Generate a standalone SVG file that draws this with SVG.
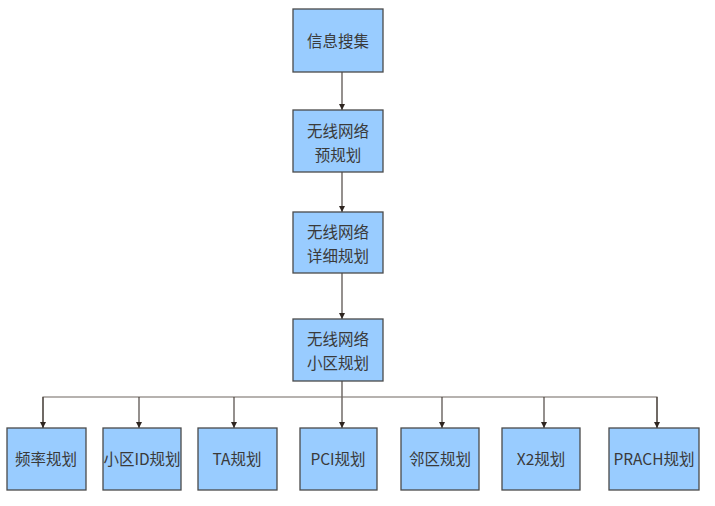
<svg xmlns="http://www.w3.org/2000/svg" width="715" height="506" viewBox="0 0 715 506">
<style>
.box{fill:#99ccff;stroke:#4a4a4a;stroke-width:1.3}
.t{font-family:"Noto Sans CJK SC","Liberation Sans",sans-serif;font-size:15.5px;fill:#3a3a3a;text-anchor:middle}
.c{fill:none;stroke:#3d3530;stroke-width:1.1}
.h{fill:none;stroke:#6e6660;stroke-width:1.1}
</style>
<defs>
<marker id="ar" viewBox="0 0 10 10" refX="10" refY="5" markerWidth="6" markerHeight="6" markerUnits="userSpaceOnUse" orient="auto">
<path d="M0,0 L10,5 L0,10 Z" fill="#2e2520"/>
</marker>
</defs>
<rect width="715" height="506" fill="#fff"/>
<g id="connectors">
<line class="c" x1="342" y1="72" x2="342" y2="110" marker-end="url(#ar)"/>
<line class="c" x1="342" y1="172" x2="342" y2="212" marker-end="url(#ar)"/>
<line class="c" x1="342" y1="273" x2="342" y2="319" marker-end="url(#ar)"/>
<line class="c" x1="342" y1="381" x2="342" y2="428" marker-end="url(#ar)"/>
<polyline class="h" points="43,428 43,397 657,397 657,428"/>
<line class="c" x1="43" y1="397" x2="43" y2="428" marker-end="url(#ar)"/>
<line class="c" x1="139" y1="397" x2="139" y2="428" marker-end="url(#ar)"/>
<line class="c" x1="234" y1="397" x2="234" y2="428" marker-end="url(#ar)"/>
<line class="c" x1="442" y1="397" x2="442" y2="428" marker-end="url(#ar)"/>
<line class="c" x1="544" y1="397" x2="544" y2="428" marker-end="url(#ar)"/>
<line class="c" x1="657" y1="397" x2="657" y2="428" marker-end="url(#ar)"/>
</g>
<g id="n1"><rect class="box" x="293" y="9" width="90" height="63"/><text class="t" x="338" y="47">信息搜集</text></g>
<g id="n2"><rect class="box" x="293" y="110" width="90" height="62"/><text class="t" x="338" y="137">无线网络</text><text class="t" x="338" y="161">预规划</text></g>
<g id="n3"><rect class="box" x="293" y="212" width="90" height="61"/><text class="t" x="338" y="238">无线网络</text><text class="t" x="338" y="262">详细规划</text></g>
<g id="n4"><rect class="box" x="293" y="319" width="90" height="62"/><text class="t" x="338" y="345">无线网络</text><text class="t" x="338" y="369">小区规划</text></g>
<g id="b1"><rect class="box" x="7" y="428" width="79" height="62"/><text class="t" x="46" y="465">频率规划</text></g>
<g id="b2"><rect class="box" x="103" y="428" width="78" height="62"/><text class="t" x="142" y="465">小区ID规划</text></g>
<g id="b3"><rect class="box" x="198" y="428" width="79" height="62"/><text class="t" x="237" y="465">TA规划</text></g>
<g id="b4"><rect class="box" x="300" y="428" width="77" height="62"/><text class="t" x="338" y="465">PCI规划</text></g>
<g id="b5"><rect class="box" x="401" y="428" width="78" height="62"/><text class="t" x="440" y="465">邻区规划</text></g>
<g id="b6"><rect class="box" x="502" y="428" width="78" height="62"/><text class="t" x="541" y="465">X2规划</text></g>
<g id="b7"><rect class="box" x="609" y="428" width="90" height="62"/><text class="t" x="654" y="465">PRACH规划</text></g>
</svg>
